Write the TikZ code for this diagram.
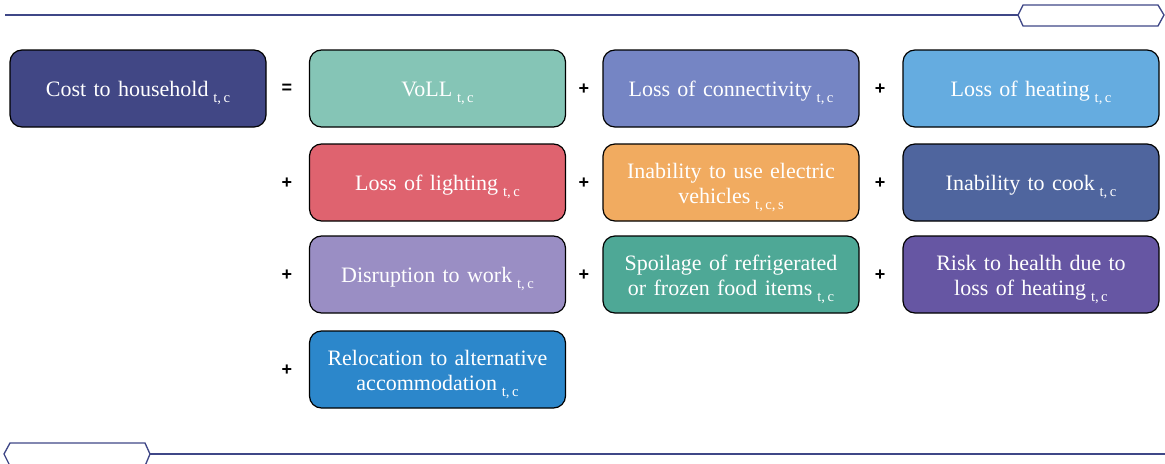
\documentclass[tikz,border=0pt]{standalone}
\usepackage{fontspec}
\setmainfont{Liberation Serif}
\newfontfamily\opfont{Liberation Sans}
\newcommand{\nohyph}{\hyphenpenalty=10000\exhyphenpenalty=10000\relax}
\begin{document}
% index subscript after a label: lowered, smaller, fixed line depth
\newcommand{\subidx}[1]{\strut\hspace{0.22em}\smash{\raisebox{-0.6ex}{\fontsize{11}{12}\selectfont #1}}}
\begin{tikzpicture}[x=0.75pt,y=-0.75pt,
  box/.style={draw=black,line width=0.9pt,rounded corners=9pt,minimum width=256*0.75pt,
    minimum height=77*0.75pt,text width=240*0.75pt,align=center,text=white,
    font={\fontsize{16.5}{19}\selectfont\nohyph},inner sep=0pt,
    execute at begin node={\rule{0pt}{18pt}}},
  op/.style={font=\opfont\bfseries\fontsize{13.5}{13.5}\selectfont,text=black},
  rule/.style={draw=rulec,line width=1.5pt},
  tag/.style={draw=rulec,line width=1pt,fill=white}]
\definecolor{rulec}{HTML}{3F4787}
\definecolor{cA}{HTML}{414785}
\definecolor{cB}{HTML}{85C5B6}
\definecolor{cC}{HTML}{7585C4}
\definecolor{cD}{HTML}{65ACE0}
\definecolor{cE}{HTML}{DF636F}
\definecolor{cF}{HTML}{F1AB60}
\definecolor{cG}{HTML}{4F659E}
\definecolor{cH}{HTML}{9A8EC4}
\definecolor{cI}{HTML}{4EA896}
\definecolor{cJ}{HTML}{6656A3}
\definecolor{cK}{HTML}{2C87CB}
\useasboundingbox (0,0) rectangle (1165,464);

% header and footer rules with tab shapes
\coordinate (tl) at (5,15);
\coordinate (tr) at (1018,15);
\draw[rule] (tl) -- (tr);
\draw[tag] (1018,15) -- (1023,5) -- (1158,5) -- (1164,15) -- (1158,26) -- (1023,26) -- cycle;
\coordinate (bl) at (150,454);
\coordinate (br) at (1165,454);
\draw[rule] (bl) -- (br);
\draw[tag] (4,454) -- (10,443) -- (145,443) -- (150,454) -- (145,466) -- (10,466) -- cycle;

% row 1
\node[box,fill=cA] (cost) at (138,88.5) {Cost to household\subidx{t,\,c}};
\node[op] (eq) at (287,89) {=};
\node[box,fill=cB] (voll) at (437.5,88.5) {VoLL\subidx{t,\,c}};
\node[op] (p1) at (584,89) {+};
\node[box,fill=cC] (conn) at (731,88.5) {Loss of connectivity\subidx{t,\,c}};
\node[op] (p2) at (880,89) {+};
\node[box,fill=cD] (heat) at (1031,88.5) {Loss of heating\subidx{t,\,c}};

% row 2
\node[op] (p3) at (287,183) {+};
\node[box,fill=cE] (light) at (437.5,182.5) {Loss of lighting\subidx{t,\,c}};
\node[op] (p4) at (584,183) {+};
\node[box,fill=cF] (ev) at (731,182.5) {Inability to use electric\\vehicles\subidx{t,\,c,\,s}};
\node[op] (p5) at (880,183) {+};
\node[box,fill=cG] (cook) at (1031,182.5) {Inability to cook\subidx{t,\,c}};

% row 3
\node[op] (p6) at (287,275) {+};
\node[box,fill=cH] (work) at (437.5,274.5) {Disruption to work\subidx{t,\,c}};
\node[op] (p7) at (584,275) {+};
\node[box,fill=cI] (food) at (731,274.5) {Spoilage of refrigerated\\or frozen food items\subidx{t,\,c}};
\node[op] (p8) at (880,275) {+};
\node[box,fill=cJ] (health) at (1031,274.5) {Risk to health due to\\loss of heating\subidx{t,\,c}};

% row 4
\node[op] (p9) at (287,370) {+};
\node[box,fill=cK] (reloc) at (437.5,369.5) {Relocation to alternative\\accommodation\subidx{t,\,c}};
\end{tikzpicture}
\end{document}
